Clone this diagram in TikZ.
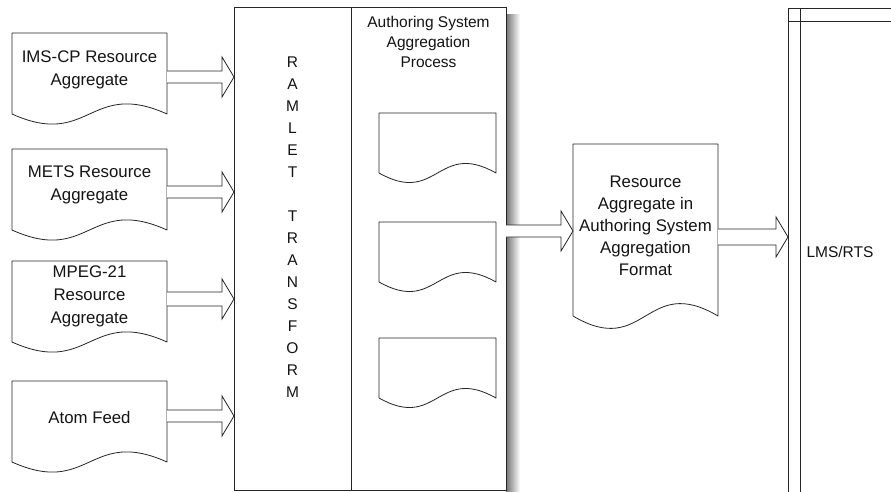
\documentclass[tikz,border=0pt]{standalone}
\usepackage{fontspec}
\setmainfont{Liberation Sans}
\usetikzlibrary{calc}

\tikzset{
  outline/.style={draw=black!85, line width=0.8pt},
  frame/.style={inner sep=0pt, outer sep=0pt, anchor=north west},
  doctext/.style={align=center, inner sep=0pt, text=black!92,
    font=\fontsize{16.8}{23}\selectfont},
  smalltext/.style={align=center, inner sep=0pt, text=black!92,
    font=\fontsize{15.5}{20}\selectfont},
  lettertext/.style={align=center, inner sep=0pt, text=black!92,
    font=\fontsize{15.5}{22}\selectfont},
}

% document symbol drawn over an invisible frame node: #1 node, #2 wave amplitude
\newcommand\docoutline[2]{%
  \draw[outline, fill=white, line join=round]
    (#1.south west) -- (#1.north west) -- (#1.north east) -- (#1.south east)
    .. controls ($(#1.south)+(0,-#2)$) and ($(#1.south)+(0,#2)$) .. (#1.south west) -- cycle;}

% hollow block arrow: #1 start, #2 tip, #3 half shaft width
\newcommand\fatarrow[3]{%
  \draw[outline, fill=white, line join=miter]
    ($(#1)+(0,-#3)$) -- ($(#2)+(-12,-#3)$) -- ($(#2)+(-12,-20)$) -- (#2)
    -- ($(#2)+(-12,20)$) -- ($(#2)+(-12,#3)$) -- ($(#1)+(0,#3)$);}

\begin{document}
\begin{tikzpicture}[x=1pt, y=-1pt]
\useasboundingbox (0,0) rectangle (891,492);
\fill[white] (0,0) rectangle (891,492);

% drop shadow of the central block
\shade[left color=black!55, right color=white] (506,15) rectangle (520,492);

% central block: transform column and aggregation column
\node[frame, outline, fill=white, minimum width=117pt, minimum height=483pt] (ramlet) at (234,7) {};
\node[frame, outline, fill=white, minimum width=155pt, minimum height=483pt] (proc) at (351,7) {};

\node[lettertext] (ramlettext) at ($(ramlet.north)+(0,220)$)
  {R\\A\\M\\L\\E\\T\\\mbox{}\\T\\R\\A\\N\\S\\F\\O\\R\\M};
\node[smalltext] (proctext) at ($(proc.north)+(0,35)$)
  {Authoring System\\Aggregation\\Process};

% documents inside the aggregation process
\node[frame, minimum width=117pt, minimum height=60pt] (inner1) at (379,113) {};
\node[frame, minimum width=117pt, minimum height=60pt] (inner2) at (379,222) {};
\node[frame, minimum width=117pt, minimum height=60pt] (inner3) at (379,338) {};
\docoutline{inner1}{33}
\docoutline{inner2}{33}
\docoutline{inner3}{33}

% source aggregates
\node[frame, minimum width=155pt, minimum height=81pt] (ims) at (12,33) {};
\node[frame, minimum width=155pt, minimum height=81pt] (mets) at (12,149) {};
\node[frame, minimum width=155pt, minimum height=81pt] (mpeg) at (12,261) {};
\node[frame, minimum width=155pt, minimum height=81pt] (atom) at (12,381) {};
\docoutline{ims}{35}
\docoutline{mets}{35}
\docoutline{mpeg}{35}
\docoutline{atom}{35}

\node[doctext] (imstext) at ($(ims.north)+(0,37)$) {IMS-CP Resource\\Aggregate};
\node[doctext] (metstext) at ($(mets.north)+(0,36)$) {METS Resource\\Aggregate};
\node[doctext] (mpegtext) at ($(mpeg.north)+(0,35)$) {MPEG-21\\Resource\\Aggregate};
\node[doctext] (atomtext) at ($(atom.north)+(0,36)$) {Atom Feed};

% aggregated output document
\node[frame, minimum width=145pt, minimum height=172pt] (agg) at (573,144) {};
\docoutline{agg}{43}
\node[doctext, font=\fontsize{16.8}{22}\selectfont] (aggtext) at ($(agg.north)+(0,82)$)
  {Resource\\Aggregate in\\Authoring System\\Aggregation\\Format};

% LMS/RTS lane
\node[frame, minimum width=103pt, minimum height=484pt] (lms) at (788,8) {};
\draw[outline] (lms.south west) -- (lms.north west) -- (lms.north east);
\draw[outline] ($(lms.north west)+(0,13)$) -- ($(lms.north east)+(0,13)$);
\draw[outline] ($(lms.north west)+(12,0)$) -- ($(lms.south west)+(12,0)$);
\node[smalltext] (lmstext) at ($(lms.north west)+(52,244)$) {LMS/RTS};

% arrow end points
\coordinate (ims-out) at ($(ims.north east)+(0,44)$);
\coordinate (mets-out) at ($(mets.north east)+(0,43)$);
\coordinate (mpeg-out) at ($(mpeg.north east)+(0,38)$);
\coordinate (atom-out) at ($(atom.north east)+(0,35)$);
\coordinate (ims-in) at (ims-out -| ramlet.west);
\coordinate (mets-in) at (mets-out -| ramlet.west);
\coordinate (mpeg-in) at (mpeg-out -| ramlet.west);
\coordinate (atom-in) at (atom-out -| ramlet.west);
\coordinate (proc-out) at ($(proc.north east)+(0,224)$);
\coordinate (agg-in) at (proc-out -| agg.west);
\coordinate (agg-out) at ($(agg.north east)+(0,93)$);
\coordinate (lms-in) at (agg-out -| lms.west);

% connectors
\fatarrow{ims-out}{ims-in}{6}
\fatarrow{mets-out}{mets-in}{6}
\fatarrow{mpeg-out}{mpeg-in}{7}
\fatarrow{atom-out}{atom-in}{6}
\fatarrow{proc-out}{agg-in}{6}
\fatarrow{agg-out}{lms-in}{8}
\end{tikzpicture}
\end{document}
